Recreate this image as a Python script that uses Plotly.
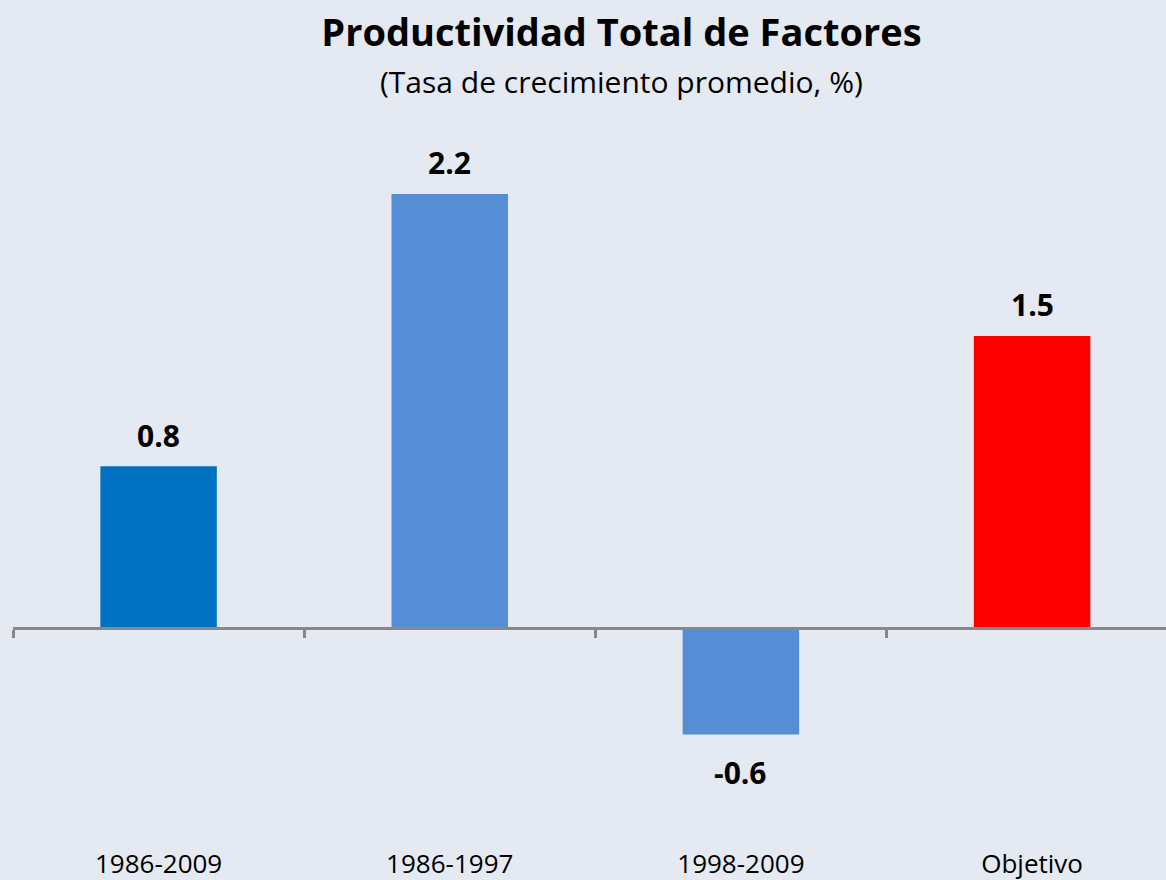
import plotly.graph_objects as go

periodos = ['1986-2009', '1986-1997', '1998-2009', 'Objetivo']
ptf = [0.82, 2.2, -0.54, 1.48]
etiquetas = ['0.8', '2.2', '-0.6', '1.5']
colores = ['#0070C0', '#558ED5', '#558ED5', '#FF0000']

FONT = 'Open Sans'
BG = '#E5E9F1'

y_min, y_max = -1.0745, 2.524

fig = go.Figure()
fig.add_trace(go.Bar(
    x=periodos,
    y=ptf,
    width=0.4,
    marker=dict(color=colores, line=dict(width=0)),
    hoverinfo='skip',
))

for p, v, t in zip(periodos, ptf, etiquetas):
    fig.add_annotation(
        x=p, y=v, text=f'<b>{t}</b>', showarrow=False,
        yshift=31 if v >= 0 else -38,
        font=dict(family=FONT, size=30, color='#000000'),
    )

fig.update_layout(
    width=1166, height=880,
    paper_bgcolor=BG, plot_bgcolor=BG,
    margin=dict(l=13, r=0, t=130, b=40),
    showlegend=False,
    title=dict(
        text='<b>Productividad Total de Factores</b>',
        x=0.533, xanchor='center', y=0.963, yanchor='middle',
        font=dict(family=FONT, size=38, color='#000000'),
    ),
    xaxis=dict(
        range=[-0.5, 3.46], showline=False, ticks='', showgrid=False,
        tickfont=dict(family=FONT, size=26, color='#000000'),
        ticklabelstandoff=6, automargin=False,
    ),
    xaxis2=dict(
        overlaying='x', anchor='free', position=(0 - y_min) / (y_max - y_min),
        side='bottom', range=[-0.5, 3.46], tickvals=[-0.5, 0.5, 1.5, 2.5],
        showticklabels=False, ticks='outside', ticklen=8, tickwidth=3,
        tickcolor='#888888', showline=True, linecolor='#888888', linewidth=3,
        showgrid=False, zeroline=False, automargin=False,
    ),
    yaxis=dict(range=[y_min, y_max], visible=False),
)

# dummy trace to activate the zero-line axis
fig.add_trace(go.Scatter(x=[None], y=[None], xaxis='x2', hoverinfo='skip'))

fig.add_annotation(
    text='(Tasa de crecimiento promedio, %)', xref='paper', yref='paper',
    x=(621 - 13) / (1166 - 13), y=1, yshift=49, showarrow=False, yanchor='middle',
    font=dict(family=FONT, size=30, color='#000000'),
)

fig.write_html('out.html', config={'displayModeBar': False},
               post_script="document.body.style.margin='0';")
